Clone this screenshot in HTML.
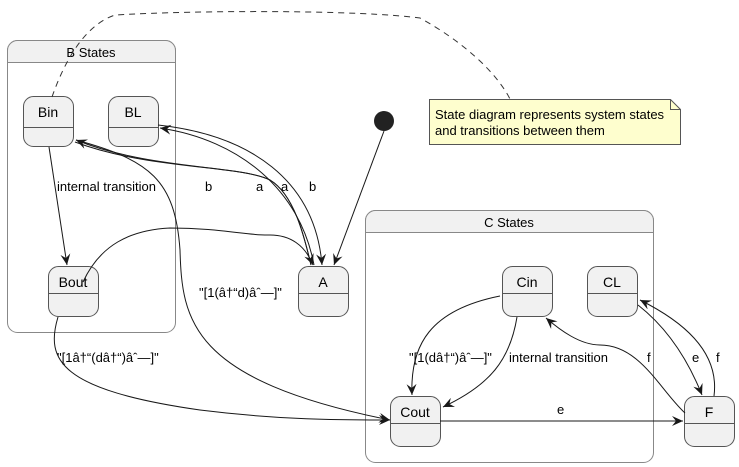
<!DOCTYPE html>
<html><head><meta charset="utf-8"><style>
html,body{margin:0;padding:0;background:#fff;}
svg{display:block;font-family:"Liberation Sans",sans-serif;}
</style></head><body>
<svg width="739" height="467" viewBox="0 0 739 467" xmlns="http://www.w3.org/2000/svg">
<defs>
<marker id="ar" viewBox="0 0 12 10" refX="11" refY="5" markerWidth="12" markerHeight="10" orient="auto" markerUnits="userSpaceOnUse">
<path d="M0,0 L11,5 L0,10 L4,5 Z" fill="#181818"/>
</marker>
</defs>
<rect x="7.5" y="40.5" width="168" height="292" rx="10" fill="#fff" stroke="#888"/>
<path d="M7.5,62.5 V50.5 a10,10 0 0 1 10,-10 H165.5 a10,10 0 0 1 10,10 V62.5 Z" fill="#f1f1f1" stroke="#888"/>
<text x="91" y="57" font-size="13" text-anchor="middle" fill="#000">B States</text>

<rect x="365.5" y="210.5" width="288" height="252" rx="10" fill="#fff" stroke="#888"/>
<path d="M365.5,232.5 V220.5 a10,10 0 0 1 10,-10 H643.5 a10,10 0 0 1 10,10 V232.5 Z" fill="#f1f1f1" stroke="#888"/>
<text x="509" y="227" font-size="13" text-anchor="middle" fill="#000">C States</text>

<g fill="#f1f1f1" stroke="#555" stroke-width="1">
<rect x="23.5" y="96.5" width="50" height="50" rx="10"/>
<rect x="108.5" y="96.5" width="50" height="50" rx="10"/>
<rect x="48.5" y="266.5" width="50" height="50" rx="10"/>
<rect x="298.5" y="266.5" width="50" height="50" rx="10"/>
<rect x="502.5" y="266.5" width="50" height="50" rx="10"/>
<rect x="587.5" y="266.5" width="50" height="50" rx="10"/>
<rect x="390.5" y="396.5" width="50" height="50" rx="10"/>
<rect x="684.5" y="396.5" width="50" height="50" rx="10"/>
</g>
<g stroke="#555">
<line x1="23.5" y1="127.5" x2="73.5" y2="127.5"/>
<line x1="108.5" y1="127.5" x2="158.5" y2="127.5"/>
<line x1="48.5" y1="293.5" x2="98.5" y2="293.5"/>
<line x1="298.5" y1="293.5" x2="348.5" y2="293.5"/>
<line x1="502.5" y1="293.5" x2="552.5" y2="293.5"/>
<line x1="587.5" y1="293.5" x2="637.5" y2="293.5"/>
<line x1="390.5" y1="423.5" x2="440.5" y2="423.5"/>
<line x1="684.5" y1="423.5" x2="734.5" y2="423.5"/>
</g>
<g font-size="14" text-anchor="middle" fill="#000">
<text x="48" y="117">Bin</text>
<text x="133" y="117">BL</text>
<text x="73" y="287">Bout</text>
<text x="323" y="287">A</text>
<text x="527" y="287">Cin</text>
<text x="612" y="287">CL</text>
<text x="415" y="417">Cout</text>
<text x="709" y="417">F</text>
</g>

<circle cx="384" cy="121" r="10" fill="#222"/>

<path d="M429.5,99.5 H670.5 L680.5,109.5 V144.5 H429.5 Z" fill="#fefece" stroke="#555"/>
<path d="M670.5,99.5 V109.5 H680.5" fill="none" stroke="#555"/>
<text x="435" y="119" font-size="13" fill="#000">State diagram represents system states</text>
<text x="435" y="135" font-size="13" fill="#000">and transitions between them</text>
<path d="M52,97 C65,60 85,25 115,15 C200,10 360,10 420,18 C460,40 495,70 510,99" fill="none" stroke="#333" stroke-dasharray="6,5"/>

<g fill="none" stroke="#181818" stroke-width="1" marker-end="url(#ar)">
<path d="M49,147 L67,265"/>
<path d="M384,131 L334,265"/>
<path d="M83,282 C100,245 130,230 170,228 C220,228 250,236 270,235 C290,235 305,245 313,265"/>
<path d="M75,142 C150,170 240,165 270,180 C295,195 305,240 311,265" marker-end="none"/>
<path d="M311,265 C305,240 295,195 270,180 C240,165 150,170 76,140"/>
<path d="M158,125 C250,135 315,180 322,265"/>
<path d="M314,265 C300,190 240,140 160,128"/>
<path d="M76,140 C150,160 175,180 180,250 C182,320 190,380 390,420"/>
<path d="M58,317 C45,360 60,390 200,410 C280,420 340,420 390,420"/>
<path d="M500,296 C430,310 410,345 412,395"/>
<path d="M517,317 C510,360 490,385 443,407"/>
<path d="M440,421 L683,421"/>
<path d="M685,413 C660,390 640,345 600,345 C580,345 560,330 546,318"/>
<path d="M638,305 C670,330 690,365 702,395"/>
<path d="M714,396 C720,350 680,320 640,300"/>
</g>

<g font-size="13" fill="#000">
<text x="57" y="191">internal transition</text>
<text x="205" y="191">b</text>
<text x="256" y="191">a</text>
<text x="281" y="191">a</text>
<text x="309" y="191">b</text>
<text x="199" y="297">"[1(â†“d)âˆ—]"</text>
<text x="57" y="362">"[1â†“(dâ†“)âˆ—]"</text>
<text x="409" y="362">"[1(dâ†“)âˆ—]"</text>
<text x="509" y="362">internal transition</text>
<text x="647" y="362">f</text>
<text x="692" y="362">e</text>
<text x="716" y="362">f</text>
<text x="557" y="414">e</text>
</g>
</svg>
</body></html>
